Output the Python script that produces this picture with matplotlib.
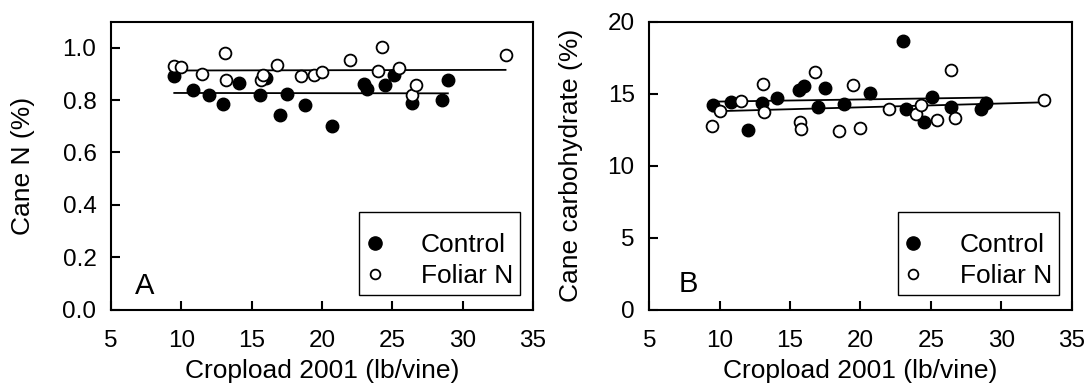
import numpy as np
import matplotlib
matplotlib.use("Agg")
import matplotlib.pyplot as plt
from matplotlib.lines import Line2D

plt.rcParams['font.family'] = ['Liberation Sans', 'DejaVu Sans']

# ---- data ----
control_x = [9.5, 10.8, 12.0, 13.0, 14.1, 15.6, 16.0, 17.0, 17.5, 18.8,
             20.7, 23.0, 23.2, 24.5, 25.1, 26.4, 28.55, 28.95]
foliar_x = [9.47, 10.0, 11.5, 13.1, 13.15, 15.7, 15.8, 16.8, 18.5, 19.45,
            20.0, 22.0, 23.95, 24.3, 25.45, 26.4, 26.7, 33.05]

caneN_control = [0.892, 0.838, 0.820, 0.787, 0.864, 0.820, 0.883, 0.744, 0.825,
                 0.783, 0.703, 0.861, 0.841, 0.857, 0.896, 0.790, 0.800, 0.875]
caneN_foliar = [0.931, 0.927, 0.899, 0.981, 0.876, 0.876, 0.896, 0.936, 0.892,
                0.896, 0.908, 0.954, 0.910, 1.003, 0.921, 0.820, 0.857, 0.971]

carb_control = [14.23, 14.42, 12.50, 14.37, 14.69, 15.22, 15.50, 14.05, 15.41,
                14.30, 15.04, 18.64, 13.91, 13.03, 14.79, 14.07, 13.91, 14.35]
carb_foliar = [12.76, 13.77, 14.49, 15.64, 13.73, 13.03, 12.57, 16.49, 12.41,
               15.57, 12.62, 13.91, 13.61, 14.19, 13.19, 16.61, 13.33, 14.53]

x_ticks = [5, 10, 15, 20, 25, 30, 35]
yN_ticks = [0.0, 0.2, 0.4, 0.6, 0.8, 1.0]
yC_ticks = [0, 5, 10, 15, 20]
series_labels = ["Control", "Foliar N"]
xlabel = "Cropload 2001 (lb/vine)"
ylabels = ["Cane N (%)", "Cane carbohydrate (%)"]
panel_letters = ["A", "B"]

# ---- figure ----
W, H = 1089, 388
fig = plt.figure(figsize=(W / 100, H / 100), dpi=100)
ax1 = fig.add_axes([0.1019, 0.2021, 0.3875, 0.7423])
ax2 = fig.add_axes([0.5962, 0.2021, 0.3879, 0.7423])

TICK_FS = 17.5
LABEL_FS = 19
LETTER_FS = 21


def fitline(ax, x, y):
    x = np.asarray(x, float)
    y = np.asarray(y, float)
    m, b = np.polyfit(x, y, 1)
    xs = np.array([x.min(), x.max()])
    ax.plot(xs, m * xs + b, color='black', lw=1.3, zorder=2)


def panel(ax, yc, yf, yticks, ylim, fmt, ylabel, ylab_x, letter, letter_xy):
    fitline(ax, control_x, yc)
    fitline(ax, foliar_x, yf)
    ax.plot(control_x, yc, 'o', ms=9, mfc='black', mec='black', mew=1.0,
            ls='none', zorder=3)
    ax.plot(foliar_x, yf, 'o', ms=8.5, mfc='white', mec='black', mew=1.3,
            ls='none', zorder=4)
    ax.set_xlim(5, 35)
    ax.set_ylim(*ylim)
    ax.set_xticks(x_ticks)
    ax.set_yticks(yticks)
    ax.set_yticklabels([fmt.format(v) for v in yticks])
    ax.tick_params(direction='in', length=6.5, width=1.5, labelsize=TICK_FS,
                   top=False, right=False)
    ax.tick_params(axis='x', pad=14.5)
    ax.tick_params(axis='y', pad=10.5)
    for s in ax.spines.values():
        s.set_linewidth(1.5)
    ax.set_xlabel(xlabel, fontsize=LABEL_FS)
    ax.xaxis.set_label_coords(0.5, -0.17)
    ax.set_ylabel(ylabel, fontsize=LABEL_FS)
    ax.yaxis.set_label_coords(ylab_x, 0.5)
    ax.text(letter_xy[0], letter_xy[1], letter, transform=ax.transAxes,
            fontsize=LETTER_FS, ha='left', va='baseline')
    handles = [
        Line2D([], [], ls='none', marker='o', ms=9.5, mfc='black', mec='black'),
        Line2D([], [], ls='none', marker='o', ms=7, mfc='white', mec='black', mew=1.3),
    ]
    leg = ax.legend(handles, series_labels, loc='lower right',
                    bbox_to_anchor=(0.970, 0.051), borderaxespad=0,
                    fontsize=LABEL_FS, frameon=True, fancybox=False,
                    edgecolor='black', framealpha=1, borderpad=0.27,
                    handlelength=0.65, handletextpad=1.43, labelspacing=0.26,
                    title=' ', title_fontsize=5)
    leg.get_frame().set_linewidth(1.0)


panel(ax1, caneN_control, caneN_foliar, yN_ticks, (0, 1.1), "{:.1f}",
      ylabels[0], -0.18, panel_letters[0], (0.057, 0.0535))
panel(ax2, carb_control, carb_foliar, yC_ticks, (0, 20), "{:d}",
      ylabels[1], -0.157, panel_letters[1], (0.0687, 0.062))

fig.savefig("out.png", dpi=100)
